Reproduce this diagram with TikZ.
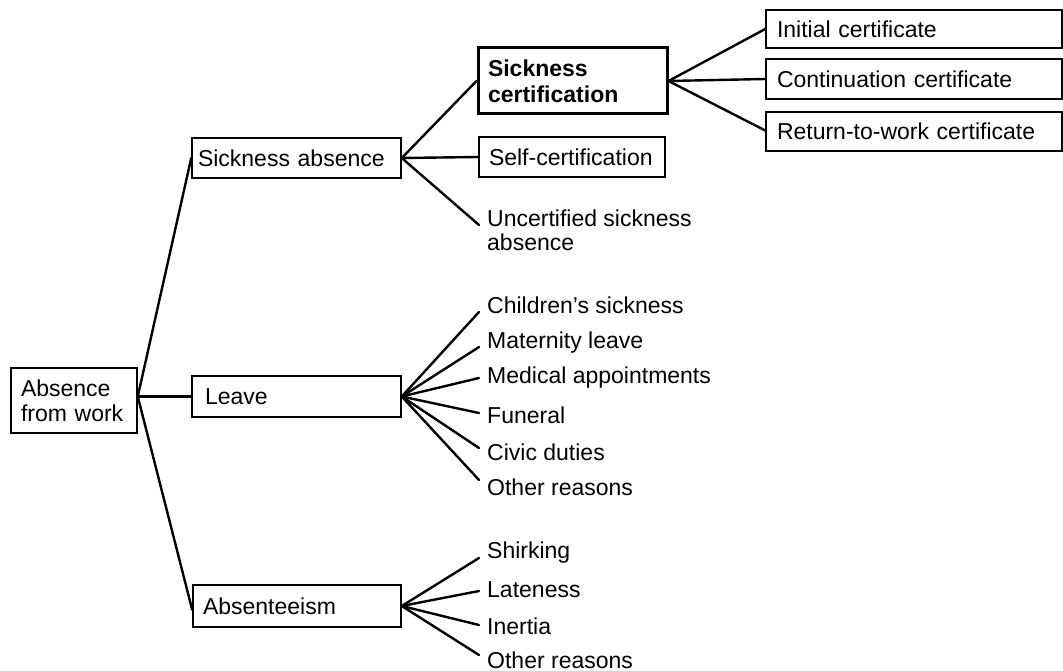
\documentclass[tikz,border=0pt]{standalone}
\usepackage{fontspec}
\setmainfont{Liberation Sans}
\begin{document}
\begin{tikzpicture}[x=1pt,y=-1pt,
  every node/.style={font=\fontsize{23}{25}\selectfont},
  box/.style={draw, line width=1.5pt, inner xsep=10pt, inner ysep=0pt, align=left},
  boldbox/.style={box, line width=3pt, font=\fontsize{23}{26}\selectfont\bfseries},
  leaf/.style={anchor=west, inner xsep=8pt, inner ysep=0pt, align=left},
  conn/.style={line width=2.4pt, line cap=round}]
\useasboundingbox (0,0) rectangle (1063,671);
% boxes
\node[box, text width=106pt, minimum height=65pt] (abs) at (74,400.5) {Absence\\from work};
\node[box, minimum height=40pt, inner xsep=6pt, text width=197pt] (sa) at (296.5,158) {Sickness absence};
\node[box, text width=189pt, minimum height=41pt] (lv) at (296.5,396.5) {\hspace*{3pt}Leave};
\node[box, text width=188pt, minimum height=42pt] (ab) at (297,606) {Absenteeism};
\node[boldbox, text width=169pt, minimum height=66pt] (sc) at (572.5,81) {Sickness\\certification};
\node[box, text width=166pt, minimum height=40pt] (sf) at (572,157) {Self-certification};
\node[box, text width=274pt, minimum height=38pt, inner xsep=11pt] (ic) at (914,29) {Initial certificate};
\node[box, text width=274pt, minimum height=40pt, inner xsep=11pt] (cc) at (914,79) {Continuation certificate};
\node[box, text width=274pt, minimum height=39pt, inner xsep=11pt] (rw) at (914,131.5) {Return-to-work certificate};
% leaves
\node[leaf, font=\fontsize{23}{24}\selectfont] (uc) at (479,230) {Uncertified sickness\\absence};
\node[leaf] (l1) at (479,305) {Children's sickness};
\node[leaf] (l2) at (479,343) {Maternity leave};
\node[leaf] (l3) at (479,378) {Medical appointments};
\node[leaf] (l4) at (479,415) {Funeral};
\node[leaf] (l5) at (479,452) {Civic duties};
\node[leaf] (l6) at (479,487) {Other reasons};
\node[leaf] (a1) at (479,553) {Shirking};
\node[leaf] (a2) at (479,590) {Lateness};
\node[leaf] (a3) at (479,626) {Inertia};
\node[leaf] (a4) at (479,660) {Other reasons};
% connectors
\draw[conn] ([yshift=4pt]abs.east) -- (sa.west);
\draw[conn] ([yshift=4pt]abs.east) -- (lv.west);
\draw[conn] ([yshift=4pt]abs.east) -- ([yshift=-4pt]ab.west);
\draw[conn] (sa.east) -- (sc.west);
\draw[conn] (sa.east) -- (sf.west);
\draw[conn] (sa.east) -- ([yshift=5pt]uc.west);
\draw[conn] (sc.east) -- (ic.west);
\draw[conn] (sc.east) -- (cc.west);
\draw[conn] (sc.east) -- ([yshift=1pt]rw.west);
\draw[conn] (lv.east) -- ([yshift=-7pt]l1.west);
\draw[conn] (lv.east) -- ([yshift=-4pt]l2.west);
\draw[conn] (lv.east) -- (l3.west);
\draw[conn] (lv.east) -- ([yshift=2pt]l4.west);
\draw[conn] (lv.east) -- ([yshift=4pt]l5.west);
\draw[conn] (lv.east) -- ([yshift=7pt]l6.west);
\draw[conn] (ab.east) -- ([yshift=-5pt]a1.west);
\draw[conn] (ab.east) -- ([yshift=-1pt]a2.west);
\draw[conn] (ab.east) -- ([yshift=1pt]a3.west);
\draw[conn] (ab.east) -- ([yshift=5pt]a4.west);
\end{tikzpicture}
\end{document}
